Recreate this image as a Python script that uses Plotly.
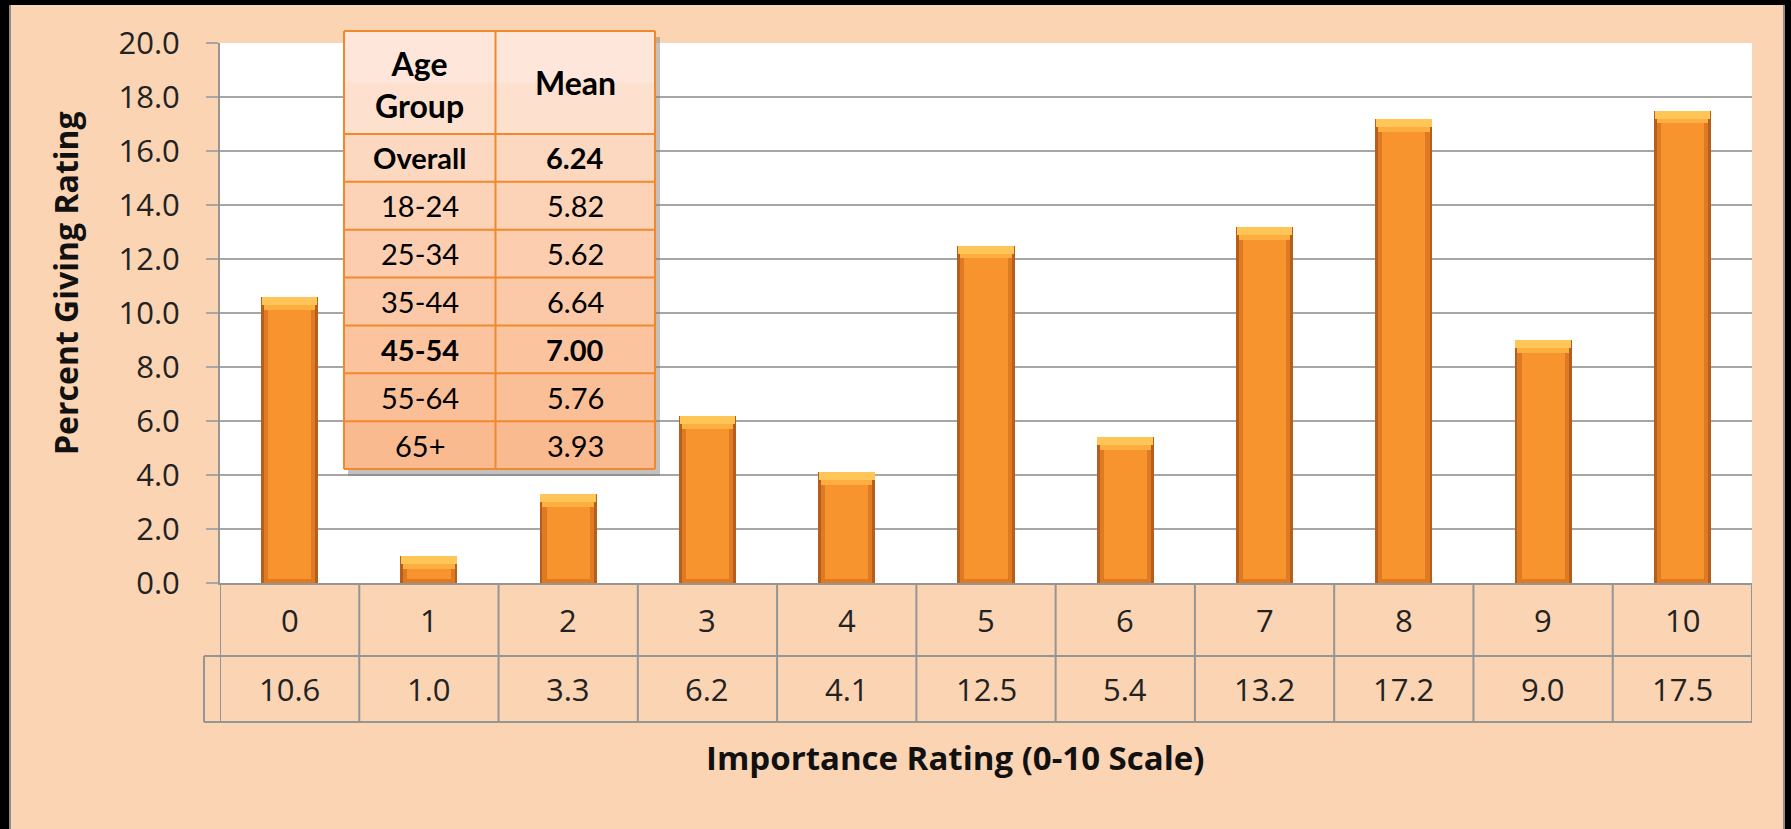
import plotly.graph_objects as go

# data
ratings = [0, 1, 2, 3, 4, 5, 6, 7, 8, 9, 10]
rating_labels = ['0', '1', '2', '3', '4', '5', '6', '7', '8', '9', '10']
percent = [10.6, 1.0, 3.3, 6.2, 4.1, 12.5, 5.4, 13.2, 17.2, 9.0, 17.5]

age_groups = ['Overall', '18-24', '25-34', '35-44', '45-54', '55-64', '65+']
age_means = ['6.24', '5.82', '5.62', '6.64', '7.00', '5.76', '3.93']
bold_rows = ['Overall', '45-54']

# layout helpers (pixel -> paper), plot area is x 220..1752, y 43..583
L, R, T, B = 220, 1752, 43, 583
W, H = 1791, 829


def px(p):
    return (p - L) / (R - L)


def py(p):
    return (B - p) / (B - T)


peach = '#FBD4B4'
grid = '#A6A6A6'
axis_font = dict(family='Open Sans, Liberation Sans, sans-serif', size=31, color='#222222')
title_font = dict(family='Open Sans, Liberation Sans, sans-serif', size=33, color='#111111')
tab_font = 'Lato, Open Sans, sans-serif'

fig = go.Figure()

# bevelled bars: dark edge, face, light top
fig.add_trace(go.Bar(x=ratings, y=percent, width=0.41,
                     marker=dict(color='#B65E1C', line=dict(width=0)),
                     hoverinfo='skip', showlegend=False))
fig.add_trace(go.Bar(x=ratings, y=percent, width=0.37,
                     marker=dict(color='#DE7A24', line=dict(width=0)),
                     hoverinfo='skip', showlegend=False))
fig.add_trace(go.Bar(x=ratings, y=[v - 0.45 for v in percent], base=0.15, width=0.31,
                     marker=dict(color='#F7942E', line=dict(width=0)),
                     showlegend=False))
fig.add_trace(go.Bar(x=ratings, y=[0.18] * len(percent), base=[v - 0.48 for v in percent],
                     width=0.37, marker=dict(color='#FDAE40', line=dict(width=0)),
                     hoverinfo='skip', showlegend=False))
fig.add_trace(go.Bar(x=ratings, y=[0.3] * len(percent), base=[v - 0.3 for v in percent],
                     width=0.40, marker=dict(color='#FFC657', line=dict(width=0)),
                     hoverinfo='skip', showlegend=False))

shapes = []
ann = []

# black frame
shapes.append(dict(type='rect', xref='paper', yref='paper', x0=px(0), x1=px(9), y0=py(W), y1=py(0),
                   fillcolor='black', line=dict(width=0), layer='above'))
shapes.append(dict(type='rect', xref='paper', yref='paper', x0=px(1785), x1=px(W), y0=py(W), y1=py(0),
                   fillcolor='black', line=dict(width=0), layer='above'))
shapes.append(dict(type='rect', xref='paper', yref='paper', x0=px(0), x1=px(W), y0=py(5), y1=py(0),
                   fillcolor='black', line=dict(width=0), layer='above'))
shapes.append(dict(type='line', xref='paper', yref='paper', x0=px(10), x1=px(10), y0=py(W), y1=py(5),
                   line=dict(color='#8C8C8C', width=2)))
shapes.append(dict(type='line', xref='paper', yref='paper', x0=px(1784), x1=px(1784), y0=py(W), y1=py(5),
                   line=dict(color='#8C8C8C', width=2)))

# data table under the axis
row1, row2 = py(656), py(722)
tcol = '#959595'
for k in range(len(ratings) + 1):
    shapes.append(dict(type='line', xref='x', yref='paper', x0=k - 0.5, x1=k - 0.5, y0=row2, y1=0,
                       line=dict(color=tcol, width=2)))
for yy in (row1, row2):
    shapes.append(dict(type='line', xref='paper', yref='paper', x0=px(204), x1=1, y0=yy, y1=yy,
                       line=dict(color=tcol, width=2)))
shapes.append(dict(type='line', xref='paper', yref='paper', x0=px(204), x1=px(204), y0=row2, y1=row1,
                   line=dict(color=tcol, width=2)))

for x, lab, v in zip(ratings, rating_labels, percent):
    ann.append(dict(x=x, y=py(619.5), xref='x', yref='paper', text=lab, showarrow=False,
                    font=axis_font, xanchor='center', yanchor='middle'))
    ann.append(dict(x=x, y=py(689), xref='x', yref='paper', text=f'{v:.1f}', showarrow=False,
                    font=axis_font, xanchor='center', yanchor='middle'))

ann.append(dict(x=px(955), y=py(757), xref='paper', yref='paper',
                text='<b>Importance Rating (0-10 Scale)</b>', showarrow=False,
                font=title_font, xanchor='center', yanchor='middle'))
ann.append(dict(x=px(65), y=py(283), xref='paper', yref='paper',
                text='<b>Percent Giving Rating</b>', showarrow=False, textangle=-90,
                font=dict(title_font, size=32), xanchor='center', yanchor='middle'))

# embedded mean table
tl, tm, tr = 344, 495.5, 655
tt, th = 31, 134
rh = (469 - th) / len(age_groups)
shapes.append(dict(type='rect', xref='paper', yref='paper', x0=px(tl + 4), x1=px(tr + 5),
                   y0=py(469 + 7), y1=py(tt + 6), fillcolor='rgba(120,120,120,0.45)',
                   line=dict(width=0)))
row_fills = ['#FCD8C0', '#FCD3B7', '#FCCEAF', '#FBC9A7', '#FBC49F', '#FBBF97', '#FABA8F']
shapes.append(dict(type='rect', xref='paper', yref='paper', x0=px(tl), x1=px(tr),
                   y0=py(th), y1=py(tt), fillcolor='#FDE0CE', line=dict(width=0)))
shapes.append(dict(type='rect', xref='paper', yref='paper', x0=px(tl), x1=px(tr),
                   y0=py((tt + th) / 2), y1=py(tt), fillcolor='#FEE7DA', line=dict(width=0)))
for i, fc in enumerate(row_fills):
    shapes.append(dict(type='rect', xref='paper', yref='paper', x0=px(tl), x1=px(tr),
                       y0=py(th + rh * (i + 1)), y1=py(th + rh * i), fillcolor=fc,
                       line=dict(width=0)))
ocol = '#F0892E'
for i in range(len(age_groups) + 1):
    yy = py(th + rh * i)
    shapes.append(dict(type='line', xref='paper', yref='paper', x0=px(tl), x1=px(tr), y0=yy, y1=yy,
                       line=dict(color=ocol, width=2)))
shapes.append(dict(type='line', xref='paper', yref='paper', x0=px(tl), x1=px(tr), y0=py(tt), y1=py(tt),
                   line=dict(color=ocol, width=2)))
for xx in (tl, tm, tr):
    shapes.append(dict(type='line', xref='paper', yref='paper', x0=px(xx), x1=px(xx),
                       y0=py(469), y1=py(tt), line=dict(color=ocol, width=2)))

c1, c2 = px((tl + tm) / 2), px((tm + tr) / 2)
hf = dict(family=tab_font, size=32, color='black')
ann.append(dict(x=c1, y=py((tt + th) / 2 + 2), xref='paper', yref='paper', text='<b>Age<br>Group</b>',
                showarrow=False, font=hf, xanchor='center', yanchor='middle'))
ann.append(dict(x=c2, y=py((tt + th) / 2), xref='paper', yref='paper', text='<b>Mean</b>',
                showarrow=False, font=hf, xanchor='center', yanchor='middle'))
for i, (g, m) in enumerate(zip(age_groups, age_means)):
    yc = py(th + rh * (i + 0.5))
    f = dict(family=tab_font, size=29, color='black')
    if g in bold_rows:
        g, m = f'<b>{g}</b>', f'<b>{m}</b>'
    ann.append(dict(x=c1, y=yc, xref='paper', yref='paper', text=g, showarrow=False,
                    font=f, xanchor='center', yanchor='middle'))
    ann.append(dict(x=c2, y=yc, xref='paper', yref='paper', text=m, showarrow=False,
                    font=f, xanchor='center', yanchor='middle'))

fig.update_layout(
    width=W, height=H,
    margin=dict(l=L, r=W - R, t=T, b=H - B),
    paper_bgcolor=peach,
    plot_bgcolor='white',
    barmode='overlay',
    bargap=0,
    showlegend=False,
    shapes=shapes,
    annotations=ann,
    xaxis=dict(range=[-0.5, 10.5], showticklabels=False, showgrid=False, zeroline=False,
               showline=True, linecolor=tcol, linewidth=2, ticks='', fixedrange=True),
    yaxis=dict(range=[0, 20], dtick=2, tickformat='.1f', showgrid=True, gridcolor=grid,
               gridwidth=2, zeroline=False, showline=True, linecolor=tcol, linewidth=2,
               ticks='outside', ticklen=12, tickwidth=2, tickcolor=grid,
               ticklabelstandoff=20, tickfont=axis_font, fixedrange=True),
)

# page body has a default margin; drop it so the figure sits at the window corner
fig.write_html('out.html', config={'displayModeBar': False},
               post_script="document.body.style.margin='0';document.body.style.overflow='hidden';")
